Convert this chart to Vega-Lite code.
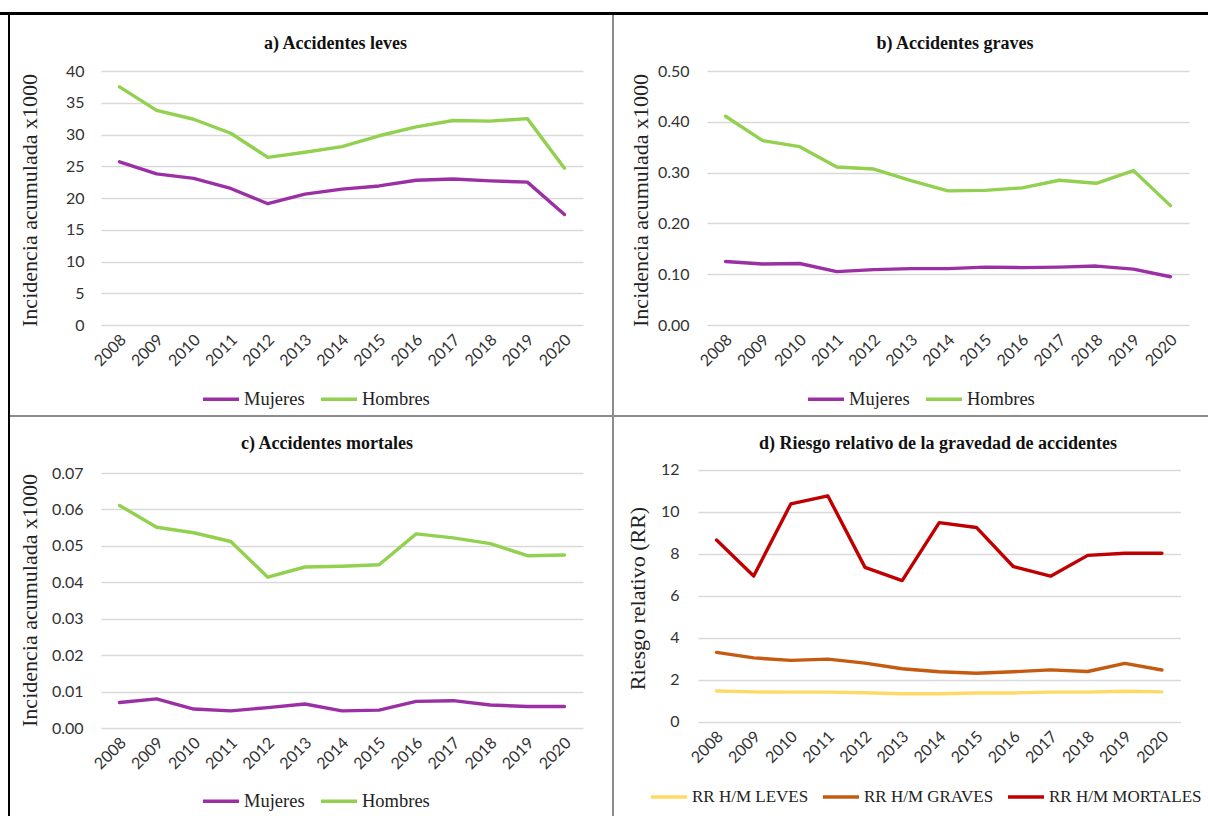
{
  "$schema": "https://vega.github.io/schema/vega-lite/v6.json",
  "background": "#8c8c8c",
  "padding": 0,
  "autosize": {"type": "pad"},
  "datasets": {
    "leves": [
      {"anio": "2008", "serie": "Mujeres", "valor": 25.7}, {"anio": "2009", "serie": "Mujeres", "valor": 23.8},
      {"anio": "2010", "serie": "Mujeres", "valor": 23.1}, {"anio": "2011", "serie": "Mujeres", "valor": 21.5},
      {"anio": "2012", "serie": "Mujeres", "valor": 19.1}, {"anio": "2013", "serie": "Mujeres", "valor": 20.6},
      {"anio": "2014", "serie": "Mujeres", "valor": 21.4}, {"anio": "2015", "serie": "Mujeres", "valor": 21.9},
      {"anio": "2016", "serie": "Mujeres", "valor": 22.8}, {"anio": "2017", "serie": "Mujeres", "valor": 23.0},
      {"anio": "2018", "serie": "Mujeres", "valor": 22.7}, {"anio": "2019", "serie": "Mujeres", "valor": 22.5},
      {"anio": "2020", "serie": "Mujeres", "valor": 17.4},
      {"anio": "2008", "serie": "Hombres", "valor": 37.5}, {"anio": "2009", "serie": "Hombres", "valor": 33.8},
      {"anio": "2010", "serie": "Hombres", "valor": 32.4}, {"anio": "2011", "serie": "Hombres", "valor": 30.2},
      {"anio": "2012", "serie": "Hombres", "valor": 26.4}, {"anio": "2013", "serie": "Hombres", "valor": 27.2},
      {"anio": "2014", "serie": "Hombres", "valor": 28.1}, {"anio": "2015", "serie": "Hombres", "valor": 29.8},
      {"anio": "2016", "serie": "Hombres", "valor": 31.2}, {"anio": "2017", "serie": "Hombres", "valor": 32.2},
      {"anio": "2018", "serie": "Hombres", "valor": 32.1}, {"anio": "2019", "serie": "Hombres", "valor": 32.5},
      {"anio": "2020", "serie": "Hombres", "valor": 24.7}
    ],
    "graves": [
      {"anio": "2008", "serie": "Mujeres", "valor": 0.125}, {"anio": "2009", "serie": "Mujeres", "valor": 0.120},
      {"anio": "2010", "serie": "Mujeres", "valor": 0.121}, {"anio": "2011", "serie": "Mujeres", "valor": 0.105},
      {"anio": "2012", "serie": "Mujeres", "valor": 0.109}, {"anio": "2013", "serie": "Mujeres", "valor": 0.111},
      {"anio": "2014", "serie": "Mujeres", "valor": 0.111}, {"anio": "2015", "serie": "Mujeres", "valor": 0.114},
      {"anio": "2016", "serie": "Mujeres", "valor": 0.113}, {"anio": "2017", "serie": "Mujeres", "valor": 0.114},
      {"anio": "2018", "serie": "Mujeres", "valor": 0.116}, {"anio": "2019", "serie": "Mujeres", "valor": 0.110},
      {"anio": "2020", "serie": "Mujeres", "valor": 0.095},
      {"anio": "2008", "serie": "Hombres", "valor": 0.411}, {"anio": "2009", "serie": "Hombres", "valor": 0.363},
      {"anio": "2010", "serie": "Hombres", "valor": 0.351}, {"anio": "2011", "serie": "Hombres", "valor": 0.311},
      {"anio": "2012", "serie": "Hombres", "valor": 0.307}, {"anio": "2013", "serie": "Hombres", "valor": 0.284},
      {"anio": "2014", "serie": "Hombres", "valor": 0.264}, {"anio": "2015", "serie": "Hombres", "valor": 0.265},
      {"anio": "2016", "serie": "Hombres", "valor": 0.270}, {"anio": "2017", "serie": "Hombres", "valor": 0.285},
      {"anio": "2018", "serie": "Hombres", "valor": 0.279}, {"anio": "2019", "serie": "Hombres", "valor": 0.304},
      {"anio": "2020", "serie": "Hombres", "valor": 0.235}
    ],
    "mortales": [
      {"anio": "2008", "serie": "Mujeres", "valor": 0.0070}, {"anio": "2009", "serie": "Mujeres", "valor": 0.0080},
      {"anio": "2010", "serie": "Mujeres", "valor": 0.0052}, {"anio": "2011", "serie": "Mujeres", "valor": 0.0047},
      {"anio": "2012", "serie": "Mujeres", "valor": 0.0056}, {"anio": "2013", "serie": "Mujeres", "valor": 0.0066},
      {"anio": "2014", "serie": "Mujeres", "valor": 0.0047}, {"anio": "2015", "serie": "Mujeres", "valor": 0.0049},
      {"anio": "2016", "serie": "Mujeres", "valor": 0.0073}, {"anio": "2017", "serie": "Mujeres", "valor": 0.0075},
      {"anio": "2018", "serie": "Mujeres", "valor": 0.0063}, {"anio": "2019", "serie": "Mujeres", "valor": 0.0059},
      {"anio": "2020", "serie": "Mujeres", "valor": 0.0059},
      {"anio": "2008", "serie": "Hombres", "valor": 0.0611}, {"anio": "2009", "serie": "Hombres", "valor": 0.0551},
      {"anio": "2010", "serie": "Hombres", "valor": 0.0536}, {"anio": "2011", "serie": "Hombres", "valor": 0.0512},
      {"anio": "2012", "serie": "Hombres", "valor": 0.0414}, {"anio": "2013", "serie": "Hombres", "valor": 0.0442},
      {"anio": "2014", "serie": "Hombres", "valor": 0.0444}, {"anio": "2015", "serie": "Hombres", "valor": 0.0448},
      {"anio": "2016", "serie": "Hombres", "valor": 0.0533}, {"anio": "2017", "serie": "Hombres", "valor": 0.0522},
      {"anio": "2018", "serie": "Hombres", "valor": 0.0506}, {"anio": "2019", "serie": "Hombres", "valor": 0.0473},
      {"anio": "2020", "serie": "Hombres", "valor": 0.0475}
    ],
    "riesgo": [
      {"anio": "2008", "serie": "RR H/M LEVES", "valor": 1.46}, {"anio": "2009", "serie": "RR H/M LEVES", "valor": 1.42},
      {"anio": "2010", "serie": "RR H/M LEVES", "valor": 1.41}, {"anio": "2011", "serie": "RR H/M LEVES", "valor": 1.41},
      {"anio": "2012", "serie": "RR H/M LEVES", "valor": 1.38}, {"anio": "2013", "serie": "RR H/M LEVES", "valor": 1.33},
      {"anio": "2014", "serie": "RR H/M LEVES", "valor": 1.33}, {"anio": "2015", "serie": "RR H/M LEVES", "valor": 1.37},
      {"anio": "2016", "serie": "RR H/M LEVES", "valor": 1.37}, {"anio": "2017", "serie": "RR H/M LEVES", "valor": 1.41},
      {"anio": "2018", "serie": "RR H/M LEVES", "valor": 1.41}, {"anio": "2019", "serie": "RR H/M LEVES", "valor": 1.45},
      {"anio": "2020", "serie": "RR H/M LEVES", "valor": 1.42},
      {"anio": "2008", "serie": "RR H/M GRAVES", "valor": 3.30}, {"anio": "2009", "serie": "RR H/M GRAVES", "valor": 3.04},
      {"anio": "2010", "serie": "RR H/M GRAVES", "valor": 2.92}, {"anio": "2011", "serie": "RR H/M GRAVES", "valor": 2.98},
      {"anio": "2012", "serie": "RR H/M GRAVES", "valor": 2.79}, {"anio": "2013", "serie": "RR H/M GRAVES", "valor": 2.52},
      {"anio": "2014", "serie": "RR H/M GRAVES", "valor": 2.38}, {"anio": "2015", "serie": "RR H/M GRAVES", "valor": 2.31},
      {"anio": "2016", "serie": "RR H/M GRAVES", "valor": 2.38}, {"anio": "2017", "serie": "RR H/M GRAVES", "valor": 2.47},
      {"anio": "2018", "serie": "RR H/M GRAVES", "valor": 2.39}, {"anio": "2019", "serie": "RR H/M GRAVES", "valor": 2.78},
      {"anio": "2020", "serie": "RR H/M GRAVES", "valor": 2.46},
      {"anio": "2008", "serie": "RR H/M MORTALES", "valor": 8.65}, {"anio": "2009", "serie": "RR H/M MORTALES", "valor": 6.94},
      {"anio": "2010", "serie": "RR H/M MORTALES", "valor": 10.37}, {"anio": "2011", "serie": "RR H/M MORTALES", "valor": 10.75},
      {"anio": "2012", "serie": "RR H/M MORTALES", "valor": 7.35}, {"anio": "2013", "serie": "RR H/M MORTALES", "valor": 6.72},
      {"anio": "2014", "serie": "RR H/M MORTALES", "valor": 9.48}, {"anio": "2015", "serie": "RR H/M MORTALES", "valor": 9.25},
      {"anio": "2016", "serie": "RR H/M MORTALES", "valor": 7.38}, {"anio": "2017", "serie": "RR H/M MORTALES", "valor": 6.93},
      {"anio": "2018", "serie": "RR H/M MORTALES", "valor": 7.92}, {"anio": "2019", "serie": "RR H/M MORTALES", "valor": 8.02},
      {"anio": "2020", "serie": "RR H/M MORTALES", "valor": 8.02}
    ]
  },
  "spacing": 0,
  "bounds": "full",
  "resolve": {"scale": {"x": "independent", "y": "independent", "color": "independent"}, "legend": {"color": "independent"}},
  "vconcat": [
    {"width": 1208, "height": 12, "view": {"fill": "white", "stroke": null}, "data": {"values": []}, "mark": "rect", "encoding": {}},
    {"width": 1208, "height": 3, "view": {"fill": "black", "stroke": null}, "data": {"values": []}, "mark": "rect", "encoding": {}},
    {
      "spacing": 0,
      "bounds": "full",
      "resolve": {"scale": {"x": "independent", "y": "independent", "color": "independent"}, "legend": {"color": "independent"}},
      "hconcat": [
        {"width": 8, "height": 801, "view": {"fill": "white", "stroke": null}, "data": {"values": []}, "mark": "rect", "encoding": {}},
        {"width": 2, "height": 801, "view": {"fill": "black", "stroke": null}, "data": {"values": []}, "mark": "rect", "encoding": {}},
        {
          "spacing": 2,
          "bounds": "full",
          "resolve": {"scale": {"x": "independent", "y": "independent", "color": "independent"}, "legend": {"color": "independent"}},
          "vconcat": [
            {
              "spacing": 2,
              "bounds": "flush",
              "resolve": {"scale": {"x": "independent", "y": "independent", "color": "independent"}, "legend": {"color": "independent"}},
              "hconcat": [
                {
                  "width": 602, "height": 400,
                  "title": {"text": "a) Accidentes leves", "offset": -38, "dx": 24.5},
                  "data": {"name": "leves"},
                  "mark": "line",
                  "encoding": {
                    "x": {"field": "anio", "type": "ordinal", "bandPosition": 0.5,
                      "scale": {"type": "band", "range": [91, 573], "paddingInner": 0, "paddingOuter": 0},
                      "axis": {"offset": -90}},
                    "y": {"field": "valor", "type": "quantitative",
                      "scale": {"domain": [0, 40], "range": [310, 56], "nice": false},
                      "axis": {"values": [0, 5, 10, 15, 20, 25, 30, 35, 40], "offset": -91, "labelPadding": 17,
                        "title": "Incidencia acumulada x1000", "titleX": -72, "titleY": 185}},
                    "color": {"field": "serie", "type": "nominal",
                      "scale": {"domain": ["Mujeres", "Hombres"], "range": ["#9b30a5", "#92d050"]},
                      "legend": {"legendX": 191, "legendY": 364}}
                  }
                },
                {
                  "width": 594, "height": 400,
                  "title": {"text": "b) Accidentes graves", "offset": -38, "dx": 44},
                  "data": {"name": "graves"},
                  "mark": "line",
                  "encoding": {
                    "x": {"field": "anio", "type": "ordinal", "bandPosition": 0.5,
                      "scale": {"type": "band", "range": [93, 575], "paddingInner": 0, "paddingOuter": 0},
                      "axis": {"offset": -90}},
                    "y": {"field": "valor", "type": "quantitative",
                      "scale": {"domain": [0, 0.5], "range": [310, 56], "nice": false},
                      "axis": {"values": [0, 0.1, 0.2, 0.3, 0.4, 0.5], "format": ".2f", "offset": -93, "labelPadding": 18,
                        "title": "Incidencia acumulada x1000", "titleX": -67, "titleY": 185}},
                    "color": {"field": "serie", "type": "nominal",
                      "scale": {"domain": ["Mujeres", "Hombres"], "range": ["#9b30a5", "#92d050"]},
                      "legend": {"legendX": 192, "legendY": 364}}
                  }
                }
              ]
            },
            {
              "spacing": 2,
              "bounds": "flush",
              "resolve": {"scale": {"x": "independent", "y": "independent", "color": "independent"}, "legend": {"color": "independent"}},
              "hconcat": [
                {
                  "width": 602, "height": 399,
                  "title": {"text": "c) Accidentes mortales", "offset": -36, "dx": 16},
                  "data": {"name": "mortales"},
                  "mark": "line",
                  "encoding": {
                    "x": {"field": "anio", "type": "ordinal", "bandPosition": 0.5,
                      "scale": {"type": "band", "range": [91, 573], "paddingInner": 0, "paddingOuter": 0},
                      "axis": {"offset": -88}},
                    "y": {"field": "valor", "type": "quantitative",
                      "scale": {"domain": [0, 0.07], "range": [311, 56], "nice": false},
                      "axis": {"values": [0, 0.01, 0.02, 0.03, 0.04, 0.05, 0.06, 0.07], "format": ".2f", "offset": -91, "labelPadding": 18,
                        "title": "Incidencia acumulada x1000", "titleX": -72, "titleY": 183}},
                    "color": {"field": "serie", "type": "nominal",
                      "scale": {"domain": ["Mujeres", "Hombres"], "range": ["#9b30a5", "#92d050"]},
                      "legend": {"legendX": 191, "legendY": 364}}
                  }
                },
                {
                  "width": 594, "height": 399,
                  "title": {"text": "d) Riesgo relativo de la gravedad de accidentes", "offset": -36, "dx": 27},
                  "data": {"name": "riesgo"},
                  "mark": "line",
                  "encoding": {
                    "x": {"field": "anio", "type": "ordinal", "bandPosition": 0.5,
                      "scale": {"type": "band", "range": [84, 566.5], "paddingInner": 0, "paddingOuter": 0},
                      "axis": {"offset": -94.3}},
                    "y": {"field": "valor", "type": "quantitative",
                      "scale": {"domain": [0, 12], "range": [304.7, 52.7], "nice": false},
                      "axis": {"values": [0, 2, 4, 6, 8, 10, 12], "offset": -84, "labelPadding": 19,
                        "title": "Riesgo relativo (RR)", "titleX": -61, "titleY": 181}},
                    "color": {"field": "serie", "type": "nominal",
                      "scale": {"domain": ["RR H/M LEVES", "RR H/M GRAVES", "RR H/M MORTALES"], "range": ["#ffd966", "#c55a11", "#c00000"]},
                      "legend": {"legendX": 35, "legendY": 360, "labelFontSize": 17, "columnPadding": 12}}
                  }
                }
              ]
            }
          ]
        }
      ]
    }
  ],
  "config": {
    "view": {"fill": "white", "stroke": null},
    "line": {"strokeWidth": 3.4, "strokeJoin": "round", "strokeCap": "round"},
    "title": {"font": "Liberation Serif", "fontSize": 18, "fontWeight": "bold", "color": "#111111", "anchor": "middle", "frame": "group", "baseline": "alphabetic"},
    "axis": {
      "domain": false, "ticks": false,
      "labelFont": "Lato", "labelFontSize": 16, "labelColor": "#333333",
      "titleFont": "Liberation Serif", "titleFontSize": 22, "titleFontWeight": "normal", "titleColor": "#222222"
    },
    "axisY": {"grid": true, "gridColor": "#d9d9d9", "gridWidth": 1.3, "titleAngle": -90, "titleBaseline": "middle", "titleAlign": "center"},
    "axisX": {"grid": false, "title": null, "labelAngle": -45, "labelAlign": "right", "labelBaseline": "middle", "labelPadding": 12, "labelOffset": 4, "labelOverlap": false, "labelFlush": false},
    "legend": {
      "orient": "none", "direction": "horizontal", "title": null, "padding": 0,
      "symbolType": "stroke", "symbolSize": 1300, "symbolStrokeWidth": 3.5,
      "labelFont": "Liberation Serif", "labelFontSize": 18.5, "labelColor": "#222222", "labelOffset": 3,
      "columnPadding": 14
    }
  }
}
